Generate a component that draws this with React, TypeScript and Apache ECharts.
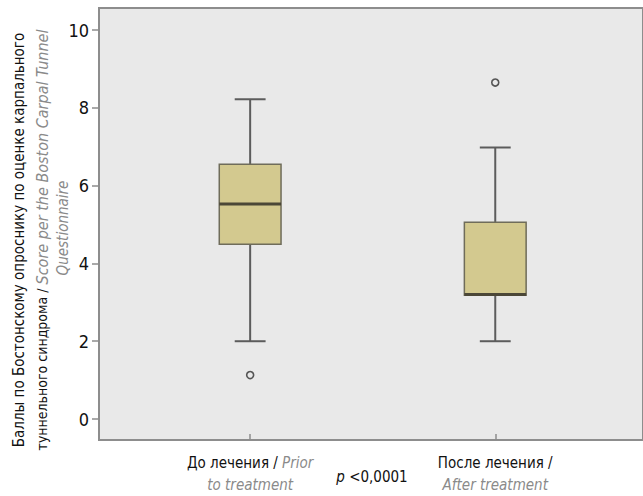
import React, { useEffect, useRef } from "react";
import * as echarts from "echarts";

const categories = ["До лечения", "После лечения"];
const positions = [1, 2];
const mins = [2.0, 2.0];
const q1s = [4.49, 3.18];
const medians = [5.53, 3.2];
const q3s = [6.55, 5.06];
const maxs = [8.22, 6.98];
const outliers: [number, number][] = [
  [1, 1.13],
  [2, 8.65],
];
const yTicks = [0, 2, 4, 6, 8, 10];

const FONT = "'Liberation Sans Narrow', 'DejaVu Sans Condensed', 'Roboto Condensed', sans-serif";

export default function App() {
  const ref = useRef<HTMLDivElement>(null);
  useEffect(() => {
    if (!ref.current) return;
    const chart = echarts.init(ref.current, undefined, { renderer: "svg" });
    const boxData = positions.map((p, i) => [p, mins[i], q1s[i], medians[i], q3s[i], maxs[i]]);
    const option: any = {
      animation: false,
      textStyle: { fontFamily: FONT },
      grid: {
        left: 99,
        top: 8,
        right: -2,
        bottom: 56,
        show: true,
        backgroundColor: "#e9e9e9",
        borderColor: "#8d8d8d",
        borderWidth: 2,
      },
      xAxis: {
        type: "value",
        min: 0.3833,
        max: 2.6028,
        splitLine: { show: false },
        axisLine: { show: false, onZero: false },
        axisTick: { show: true, inside: true, length: 6, customValues: positions, lineStyle: { color: "#8d8d8d", width: 1.5 } },
        axisLabel: {
          customValues: positions,
          margin: 12,
          lineHeight: 22,
          formatter: (v: number) => {
            if (Math.round(v) === 1) return "{a|" + categories[0] + " / }{b|Prior}\n{b|to treatment}";
            return "{a|" + categories[1] + " /}\n{b|After treatment}";
          },
          rich: {
            a: { fontFamily: FONT, fontSize: 15, color: "#111", lineHeight: 22 },
            b: { fontFamily: FONT, fontSize: 15, color: "#8a8a8a", fontStyle: "italic", lineHeight: 22 },
          },
        },
      },
      yAxis: {
        type: "value",
        min: -0.539,
        max: 10.566,
        splitLine: { show: false },
        axisLine: { show: false },
        axisTick: { show: true, length: 7, customValues: yTicks, lineStyle: { color: "#8d8d8d", width: 1.5 } },
        axisLabel: { customValues: yTicks, margin: 10, fontFamily: FONT, fontSize: 18, color: "#111" },
      },
      series: [
        {
          type: "custom",
          data: boxData,
          renderItem: (params: any, api: any) => {
            const x = api.value(0);
            const lo = api.coord([x, api.value(1)]);
            const q1 = api.coord([x, api.value(2)]);
            const med = api.coord([x, api.value(3)]);
            const q3 = api.coord([x, api.value(4)]);
            const hi = api.coord([x, api.value(5)]);
            const bw = api.size([0.252, 0])[0];
            const cw = bw / 2;
            const cx = lo[0];
            const whisk = { stroke: "#5c5c5c", lineWidth: 2 };
            return {
              type: "group",
              children: [
                { type: "line", shape: { x1: cx, y1: hi[1], x2: cx, y2: q3[1] }, style: whisk },
                { type: "line", shape: { x1: cx, y1: q1[1], x2: cx, y2: lo[1] }, style: whisk },
                { type: "line", shape: { x1: cx - cw / 2, y1: hi[1], x2: cx + cw / 2, y2: hi[1] }, style: whisk },
                { type: "line", shape: { x1: cx - cw / 2, y1: lo[1], x2: cx + cw / 2, y2: lo[1] }, style: whisk },
                {
                  type: "rect",
                  shape: { x: cx - bw / 2, y: q3[1], width: bw, height: q1[1] - q3[1] },
                  style: { fill: "#d3c98f", stroke: "#6f6c5a", lineWidth: 1.5 },
                },
                {
                  type: "line",
                  shape: { x1: cx - bw / 2, y1: med[1], x2: cx + bw / 2, y2: med[1] },
                  style: { stroke: "#4b4737", lineWidth: 3 },
                },
              ],
            };
          },
        },
        {
          type: "scatter",
          data: outliers,
          symbol: "circle",
          symbolSize: 7,
          itemStyle: { color: "#e9e9e9", borderColor: "#555", borderWidth: 1.6, opacity: 1 },
        },
      ],
      graphic: [
        {
          type: "text",
          x: 19,
          y: 240,
          rotation: Math.PI / 2,
          style: {
            text: "Баллы по Бостонскому опроснику по оценке карпального",
            fontFamily: FONT,
            fontSize: 15,
            fill: "#111",
            align: "center",
            verticalAlign: "middle",
          },
        },
        {
          type: "text",
          x: 42,
          y: 240,
          rotation: Math.PI / 2,
          style: {
            text: "{a|туннельного синдрома / }{b|Score per the Boston Carpal Tunnel}",
            rich: {
              a: { fontFamily: FONT, fontSize: 14, fill: "#111" },
              b: { fontFamily: FONT, fontSize: 16, fill: "#8a8a8a", fontStyle: "italic" },
            },
            align: "center",
            verticalAlign: "middle",
          },
        },
        {
          type: "text",
          x: 63,
          y: 228,
          rotation: Math.PI / 2,
          style: {
            text: "Questionnaire",
            fontFamily: FONT,
            fontSize: 15,
            fontStyle: "italic",
            fill: "#8a8a8a",
            align: "center",
            verticalAlign: "middle",
          },
        },
        {
          type: "text",
          x: 372,
          y: 477,
          style: {
            text: "{i|p} <0,0001",
            rich: { i: { fontFamily: FONT, fontSize: 15, fontStyle: "italic", fill: "#111" } },
            fontFamily: FONT,
            fontSize: 15,
            fill: "#111",
            align: "center",
            verticalAlign: "middle",
          },
        },
      ],
    };
    chart.setOption(option);
    return () => chart.dispose();
  }, []);
  return <div ref={ref} style={{ width: 643, height: 496, position: "absolute", left: 0, top: 0 }} />;
}
